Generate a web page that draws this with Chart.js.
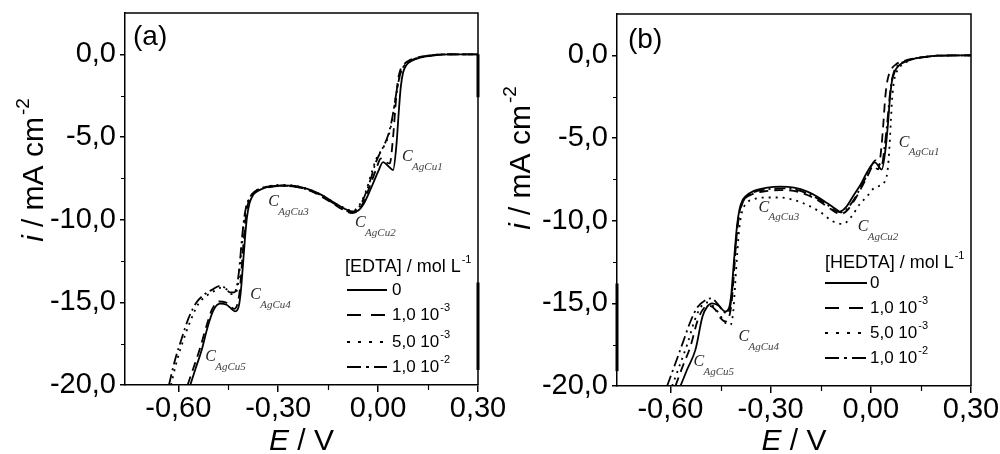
<!DOCTYPE html>
<html><head><meta charset="utf-8">
<script src="https://cdn.jsdelivr.net/npm/chart.js@4.4.1/dist/chart.umd.min.js"></script>
<style>
html,body{margin:0;padding:0;background:#fff;}
#wrap{position:relative;width:1000px;height:454px;overflow:hidden;background:#fff;}
#wa{position:absolute;left:0;top:0;width:520px;height:454px;}
#wb{position:absolute;left:500px;top:0;width:500px;height:454px;}
canvas{display:block;}
</style></head><body>
<div id="wrap"><div id="wa"><canvas id="ca" width="520" height="454"></canvas></div><div id="wb"><canvas id="cb" width="500" height="454"></canvas></div></div>
<script>
// ---------- axes ----------
const xMin = -0.76, xMax = 0.30;
const yMin = -20, yMax = 2.5;
const xTicks = [-0.60, -0.30, 0.00, 0.30];
const xTickLabels = ['-0,60', '-0,30', '0,00', '0,30'];
const xMinorTicks = [-0.45, -0.15, 0.15];
const yTicks = [-20, -15, -10, -5, 0];
const yTickLabels = ['-20,0', '-15,0', '-10,0', '-5,0', '0,0'];
const yMinorTicks = [-17.5, -12.5, -7.5, -2.5];

// ---------- legend ----------
const legendMantissa = ['0', '1,0 10', '5,0 10', '1,0 10'];
const legendExponent = ['', '-3', '-3', '-2'];

// ---------- panel (a): EDTA ----------
const aE0 = [-0.564,-0.548,-0.53,-0.512,-0.495,-0.475,-0.455,-0.44,-0.429,-0.418,-0.412,-0.406,-0.4,-0.394,-0.386,-0.375,-0.355,-0.33,-0.29,-0.25,-0.21,-0.17,-0.13,-0.1,-0.075,-0.06,-0.045,-0.03,-0.015,0,0.015,0.03,0.045,0.055,0.062,0.068,0.075,0.085,0.1,0.13,0.17,0.21,0.30];
const aI0 = [-20,-19,-17.9,-16.5,-15.5,-15.08,-15.15,-15.4,-15.55,-15.2,-14.3,-12.8,-11.2,-9.9,-9.0,-8.5,-8.2,-8.02,-7.92,-7.95,-8.15,-8.5,-9.0,-9.35,-9.5,-9.45,-9.1,-8.5,-7.8,-7.1,-6.52,-6.75,-7.0,-5.5,-3.5,-2.0,-1.1,-0.65,-0.4,-0.18,-0.06,0,0];
const aE1 = [-0.572,-0.555,-0.535,-0.515,-0.498,-0.478,-0.458,-0.443,-0.432,-0.421,-0.415,-0.409,-0.403,-0.397,-0.389,-0.378,-0.358,-0.33,-0.29,-0.25,-0.21,-0.17,-0.13,-0.1,-0.078,-0.063,-0.048,-0.033,-0.018,-0.005,0.008,0.022,0.035,0.045,0.052,0.058,0.066,0.078,0.095,0.125,0.165,0.21,0.30];
const aI1 = [-20,-19,-17.8,-16.4,-15.4,-14.95,-15.0,-15.25,-15.4,-15.0,-14.2,-12.7,-11.1,-9.8,-8.9,-8.45,-8.15,-8.0,-7.95,-8.0,-8.2,-8.6,-9.1,-9.45,-9.6,-9.5,-9.1,-8.4,-7.6,-6.9,-6.3,-6.5,-6.6,-5.0,-3.2,-1.8,-1.0,-0.6,-0.35,-0.16,-0.05,0,0];
const aE2 = [-0.622,-0.605,-0.585,-0.565,-0.54,-0.515,-0.49,-0.47,-0.452,-0.44,-0.428,-0.42,-0.414,-0.408,-0.402,-0.396,-0.388,-0.378,-0.358,-0.33,-0.29,-0.25,-0.21,-0.17,-0.13,-0.1,-0.08,-0.065,-0.05,-0.035,-0.02,-0.005,0.01,0.022,0.032,0.042,0.05,0.058,0.07,0.09,0.12,0.16,0.21,0.30];
const aI2 = [-20,-18.6,-17.3,-16.2,-15.1,-14.6,-14.3,-14.1,-14.25,-14.5,-14.45,-13.8,-12.6,-11.3,-10.1,-9.3,-8.8,-8.45,-8.15,-7.98,-7.9,-7.95,-8.15,-8.5,-9.0,-9.3,-9.45,-9.35,-8.9,-8.2,-7.2,-6.3,-5.8,-5.4,-4.9,-4.0,-3.0,-2.0,-1.0,-0.5,-0.22,-0.07,0,0];
const aE3 = [-0.628,-0.61,-0.59,-0.57,-0.545,-0.52,-0.495,-0.475,-0.458,-0.445,-0.432,-0.423,-0.416,-0.41,-0.404,-0.398,-0.39,-0.38,-0.36,-0.33,-0.29,-0.25,-0.21,-0.17,-0.13,-0.1,-0.08,-0.065,-0.05,-0.035,-0.02,-0.008,0.005,0.018,0.03,0.04,0.048,0.056,0.068,0.088,0.12,0.16,0.21,0.30];
const aI3 = [-20,-18.5,-17.2,-16.0,-15.0,-14.5,-14.2,-14.0,-14.15,-14.4,-14.4,-13.9,-12.8,-11.4,-10.2,-9.4,-8.85,-8.5,-8.2,-8.05,-7.95,-8.0,-8.2,-8.55,-9.05,-9.4,-9.55,-9.45,-9.0,-8.3,-7.4,-6.6,-6.0,-5.5,-4.9,-4.1,-3.2,-2.2,-1.1,-0.5,-0.2,-0.06,0,0];
const aNoteE = [0.072, -0.069, -0.33, -0.384, -0.519];
const aNoteI = [-6.22, -10.21, -8.94, -14.56, -18.31];

// ---------- panel (b): HEDTA ----------
const bE0 = [-0.57,-0.55,-0.525,-0.504,-0.49,-0.475,-0.455,-0.436,-0.425,-0.418,-0.412,-0.406,-0.4,-0.393,-0.385,-0.376,-0.35,-0.31,-0.27,-0.23,-0.19,-0.16,-0.13,-0.105,-0.093,-0.075,-0.054,-0.03,-0.012,0.012,0.033,0.045,0.052,0.057,0.063,0.072,0.085,0.107,0.13,0.155,0.2,0.3];
const bI0 = [-20,-19,-17.8,-15.8,-15.2,-15.0,-15.15,-15.5,-15.3,-14.5,-13.0,-11.5,-10.2,-9.3,-8.8,-8.55,-8.2,-8.0,-7.94,-8.0,-8.24,-8.55,-8.95,-9.3,-9.45,-9.2,-8.55,-7.8,-7.1,-6.48,-6.9,-5.5,-4.0,-2.67,-1.6,-0.97,-0.6,-0.36,-0.2,-0.12,-0.02,0];
const bE1 = [-0.585,-0.565,-0.54,-0.518,-0.5,-0.483,-0.465,-0.45,-0.435,-0.424,-0.416,-0.41,-0.404,-0.398,-0.39,-0.38,-0.355,-0.31,-0.27,-0.23,-0.19,-0.16,-0.13,-0.105,-0.09,-0.072,-0.05,-0.028,-0.01,0.008,0.022,0.032,0.038,0.043,0.05,0.06,0.075,0.1,0.13,0.16,0.2,0.3];
const bI1 = [-20,-18.9,-17.6,-16.0,-15.3,-15.15,-15.4,-15.9,-16.1,-15.8,-14.8,-13.2,-11.5,-10.1,-9.2,-8.75,-8.4,-8.2,-8.15,-8.2,-8.45,-8.75,-9.15,-9.5,-9.6,-9.4,-8.8,-8.0,-7.3,-6.7,-6.9,-5.5,-4.0,-2.6,-1.5,-0.9,-0.55,-0.33,-0.18,-0.1,-0.02,0];
const bE2 = [-0.595,-0.575,-0.55,-0.527,-0.508,-0.49,-0.47,-0.452,-0.435,-0.42,-0.412,-0.406,-0.4,-0.394,-0.386,-0.375,-0.35,-0.31,-0.27,-0.23,-0.19,-0.15,-0.113,-0.083,-0.06,-0.033,-0.01,0.006,0.025,0.04,0.05,0.056,0.06,0.064,0.07,0.08,0.095,0.115,0.14,0.17,0.21,0.3];
const bI2 = [-20,-18.9,-17.5,-16.0,-15.2,-14.95,-15.2,-15.7,-16.2,-16.3,-15.5,-13.8,-12.0,-10.5,-9.5,-9.0,-8.7,-8.6,-8.6,-8.75,-9.05,-9.5,-10.05,-10.2,-9.8,-9.0,-8.5,-8.1,-7.9,-7.7,-7.0,-5.5,-4.0,-2.6,-1.5,-0.9,-0.55,-0.32,-0.17,-0.08,-0.02,0];
const bE3 = [-0.61,-0.59,-0.565,-0.54,-0.518,-0.498,-0.478,-0.46,-0.445,-0.432,-0.421,-0.414,-0.408,-0.402,-0.395,-0.387,-0.377,-0.352,-0.31,-0.27,-0.23,-0.19,-0.16,-0.13,-0.105,-0.09,-0.072,-0.05,-0.028,-0.01,0.014,0.032,0.042,0.05,0.056,0.062,0.07,0.083,0.105,0.13,0.16,0.2,0.3];
const bI3 = [-20,-18.9,-17.5,-16.1,-15.2,-14.85,-14.7,-15.0,-15.4,-15.6,-15.2,-14.0,-12.4,-10.9,-9.8,-9.1,-8.65,-8.3,-8.1,-8.05,-8.1,-8.35,-8.65,-9.05,-9.4,-9.5,-9.3,-8.7,-7.9,-7.2,-6.35,-6.7,-5.4,-3.9,-2.6,-1.6,-0.95,-0.58,-0.34,-0.19,-0.11,-0.02,0];
const bNoteE = [0.084, -0.039, -0.336, -0.396, -0.531];
const bNoteI = [-5.27, -10.36, -9.21, -17.03, -18.55];

const noteSubs = ['AgCu1', 'AgCu2', 'AgCu3', 'AgCu4', 'AgCu5'];

// ---------- styles ----------
const FONT = '"Liberation Sans", Arial, sans-serif';
const SERIF = '"Liberation Serif", "Times New Roman", serif';
const lineDashes = [[], [9, 6], [2, 5], [11, 4, 2, 4]];
const legendDashes = [[], [14, 10], [3, 8], [14, 5, 3, 5]];

function pts(xs, ys) { return xs.map((x, i) => ({ x: x, y: ys[i] })); }

const panelA = {
  E: [aE0, aE1, aE2, aE3], I: [aI0, aI1, aI2, aI3],
  noteE: aNoteE, noteI: aNoteI,
  legendTitle: '[EDTA] / mol L', legendTitleExp: '-1',
  label: '(a)',
  layout: { top: 13, right: 42, yW: 125, xH: 69 },
  lg: { tx: 345, ty: 267, rows: [290, 315, 342, 367], lx0: 347, lx1: 387, txx: 392 },
  yTitle: { cx: 32, cy: 170 },
  lab: { x: 133, y: 37 },
  thick: [{ side: 'right', a: 0, b: -2.6 }, { side: 'right', a: -13.8, b: -19.1 }]
};
const panelB = {
  E: [bE0, bE1, bE2, bE3], I: [bI0, bI1, bI2, bI3],
  noteE: bNoteE, noteI: bNoteI,
  legendTitle: '[HEDTA] / mol L', legendTitleExp: '-1',
  label: '(b)',
  layout: { top: 14, right: 29, yW: 117, xH: 68 },
  lg: { tx: 325, ty: 263, rows: [283, 308, 333, 358], lx0: 325, lx1: 367, txx: 370 },
  yTitle: { cx: 19, cy: 158 },
  lab: { x: 128, y: 40 },
  thick: [{ side: 'left', a: -13.8, b: -19.1 }]
};

function textWithSup(ctx, x, y, base, sup, size, supSize, rise) {
  ctx.font = size + 'px ' + FONT;
  ctx.fillText(base, x, y);
  const w = ctx.measureText(base).width;
  if (sup) {
    ctx.font = supSize + 'px ' + FONT;
    ctx.fillText(sup, x + w + 1, y - rise);
  }
}

function makeDecor(P) {
  return {
    id: 'decor',
    afterDatasetsDraw(chart) {
      const ctx = chart.ctx, xs = chart.scales.x, ys = chart.scales.y;
      ctx.save();
      ctx.fillStyle = '#222';
      ctx.textBaseline = 'middle';
      ctx.textAlign = 'left';
      P.noteE.forEach((e, k) => {
        const px = xs.getPixelForValue(e), py = ys.getPixelForValue(P.noteI[k]);
        ctx.font = 'italic 16px ' + SERIF;
        ctx.fillStyle = '#222';
        ctx.fillText('C', px, py);
        ctx.font = 'italic 11px ' + SERIF;
        ctx.fillStyle = '#444';
        ctx.fillText(noteSubs[k], px + 10, py + 10);
      });
      ctx.restore();
    },
    afterDraw(chart) {
      const ctx = chart.ctx, ca = chart.chartArea, xs = chart.scales.x, ys = chart.scales.y;
      ctx.save();
      ctx.strokeStyle = '#000';
      ctx.lineWidth = 1.5;
      ctx.beginPath();
      ctx.moveTo(ca.left, ca.top); ctx.lineTo(ca.right, ca.top); ctx.lineTo(ca.right, ca.bottom);
      ctx.stroke();
      // minor ticks
      ctx.lineWidth = 1.2;
      ctx.beginPath();
      xMinorTicks.forEach(v => { const p = Math.round(xs.getPixelForValue(v)) + 0.5; ctx.moveTo(p, ca.bottom); ctx.lineTo(p, ca.bottom + 5); });
      yMinorTicks.forEach(v => { const p = Math.round(ys.getPixelForValue(v)) + 0.5; ctx.moveTo(ca.left, p); ctx.lineTo(ca.left - 4, p); });
      ctx.stroke();
      // thicker border segments (scan artefacts)
      ctx.lineWidth = 3;
      ctx.beginPath();
      P.thick.forEach(t => {
        const xx = t.side === 'right' ? ca.right : ca.left;
        ctx.moveTo(xx, ys.getPixelForValue(t.a)); ctx.lineTo(xx, ys.getPixelForValue(t.b));
      });
      ctx.stroke();
      // legend
      const L = P.lg;
      ctx.fillStyle = '#000';
      ctx.textBaseline = 'middle';
      ctx.textAlign = 'left';
      textWithSup(ctx, L.tx, L.ty, P.legendTitle, P.legendTitleExp, 18, 11, 7);
      L.rows.forEach((ry, k) => {
        ctx.setLineDash(legendDashes[k]);
        ctx.lineWidth = 2;
        ctx.beginPath(); ctx.moveTo(L.lx0, ry); ctx.lineTo(L.lx1, ry); ctx.stroke();
        ctx.setLineDash([]);
        textWithSup(ctx, L.txx, ry, legendMantissa[k], legendExponent[k], 17, 11, 7);
      });
      // panel label
      ctx.font = '28px ' + FONT;
      ctx.fillText(P.label, P.lab.x, P.lab.y);
      // y title
      ctx.save();
      ctx.translate(P.yTitle.cx, P.yTitle.cy);
      ctx.rotate(-Math.PI / 2);
      ctx.textBaseline = 'alphabetic';
      const f1 = 'italic 30px ' + FONT, f2 = '30px ' + FONT, f3 = '19px ' + FONT;
      ctx.font = f1; const w1 = ctx.measureText('i').width + 2;
      ctx.font = f2; const w2 = ctx.measureText('/ mA cm').width;
      ctx.font = f3; const w3 = ctx.measureText('-2').width;
      let x0 = -(w1 + w2 + w3 + 8) / 2;
      ctx.font = f1; ctx.fillText('i', x0, 11); x0 += w1 + 6;
      ctx.font = f2; ctx.fillText('/ mA cm', x0, 11); x0 += w2 + 2;
      ctx.font = f3; ctx.fillText('-2', x0, -3);
      ctx.restore();
      // x title
      ctx.textBaseline = 'alphabetic';
      ctx.font = 'italic 30px ' + FONT; const we = ctx.measureText('E').width;
      ctx.font = '30px ' + FONT; const wv = ctx.measureText(' / V').width;
      const cx = (ca.left + ca.right) / 2;
      const xs0 = cx - (we + wv) / 2;
      ctx.font = 'italic 30px ' + FONT; ctx.fillText('E', xs0, 450);
      ctx.font = '30px ' + FONT; ctx.fillText(' / V', xs0 + we, 450);
      ctx.restore();
    }
  };
}

function build(id, P) {
  const datasets = P.E.map((e, k) => ({
    data: pts(e, P.I[k]),
    showLine: true, borderColor: '#000', borderWidth: 1.8, borderDash: lineDashes[k],
    pointRadius: 0, fill: false, cubicInterpolationMode: 'monotone'
  }));
  return new Chart(document.getElementById(id), {
    type: 'scatter',
    data: { datasets: datasets },
    options: {
      responsive: false, animation: false, devicePixelRatio: 1,
      layout: { padding: { left: 0, top: P.layout.top, right: P.layout.right, bottom: 0 } },
      plugins: { legend: { display: false }, tooltip: { enabled: false } },
      scales: {
        x: {
          type: 'linear', min: xMin, max: xMax,
          afterBuildTicks: s => { s.ticks = xTicks.map(v => ({ value: v })); },
          afterFit: s => { s.height = P.layout.xH; s.paddingLeft = 0; s.paddingRight = 0; },
          ticks: { callback: (v, i) => xTickLabels[i], font: { family: FONT, size: 29 }, color: '#000', padding: 0, maxRotation: 0, autoSkip: false },
          grid: { display: true, drawOnChartArea: false, drawTicks: true, tickLength: 7, color: '#000', lineWidth: 1.5 },
          border: { display: true, color: '#000', width: 1.5 }
        },
        y: {
          type: 'linear', min: yMin, max: yMax,
          afterBuildTicks: s => { s.ticks = yTicks.map(v => ({ value: v })); },
          afterFit: s => { s.width = P.layout.yW; s.paddingTop = 0; s.paddingBottom = 0; },
          ticks: { callback: (v, i) => yTickLabels[i], font: { family: FONT, size: 29 }, color: '#000', padding: 4, autoSkip: false },
          grid: { display: true, drawOnChartArea: false, drawTicks: true, tickLength: 5, color: '#000', lineWidth: 1.5 },
          border: { display: true, color: '#000', width: 1.5 }
        }
      }
    },
    plugins: [makeDecor(P)]
  });
}

build('ca', panelA);
build('cb', panelB);
</script>
</body></html>
